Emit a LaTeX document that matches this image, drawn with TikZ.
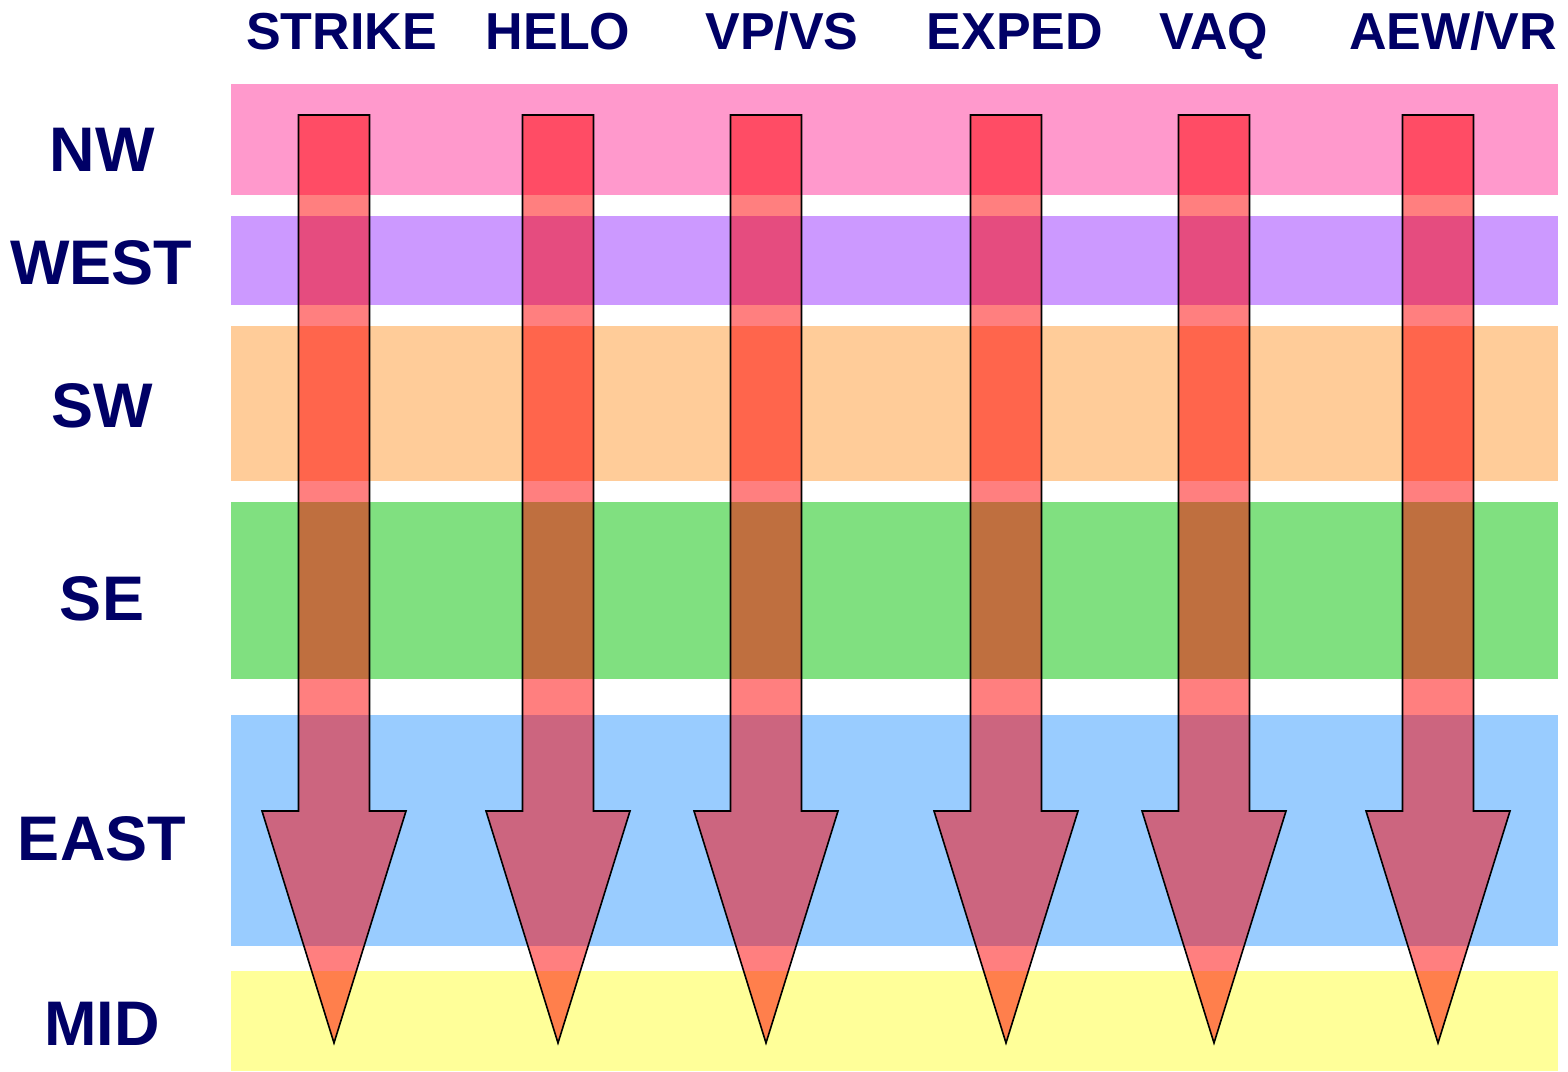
\documentclass[tikz,border=0pt]{standalone}
\usepackage{fontspec}
\setmainfont{Liberation Sans}
\begin{document}
\begin{tikzpicture}[x=1pt,y=-1pt,
  band/.style={draw=none},
  hdr/.style={anchor=base,inner sep=0pt,text=navy,font=\fontsize{52}{60}\selectfont\bfseries},
  rowlab/.style={anchor=base,inner sep=0pt,text=navy,font=\fontsize{63}{70}\selectfont\bfseries},
  bigarrow/.style={draw=black,line width=1.6pt,line join=miter,fill=red,fill opacity=0.5}]
\definecolor{navy}{HTML}{000066}
\definecolor{cNW}{HTML}{FF99CC}
\definecolor{cWEST}{HTML}{CC99FF}
\definecolor{cSW}{HTML}{FFCC99}
\definecolor{cSE}{HTML}{80E080}
\definecolor{cEAST}{HTML}{99CCFF}
\definecolor{cMID}{HTML}{FFFF99}
\useasboundingbox (0,0) rectangle (1568,1071);
\fill[white] (0,0) rectangle (1568,1071);
% bands
\fill[band,cNW]   (231,84)  rectangle (1558,195);
\fill[band,cWEST] (231,216) rectangle (1558,305);
\fill[band,cSW]   (231,326) rectangle (1558,481);
\fill[band,cSE]   (231,502) rectangle (1558,679);
\fill[band,cEAST] (231,715) rectangle (1558,946);
\fill[band,cMID]  (231,971) rectangle (1558,1071);
% arrows
\foreach \cx in {334,558,766,1006,1214,1438}{
  \draw[bigarrow] (\cx-35.5,115) -- (\cx+35.5,115) -- (\cx+35.5,811) -- (\cx+72,811)
     -- (\cx,1043) -- (\cx-72,811) -- (\cx-35.5,811) -- cycle;
}
% column headers
\node[hdr] (hStrike) at (341.5,49) {STRIKE};
\node[hdr] (hHelo)   at (558,49)   {HELO};
\node[hdr] (hVPVS)   at (782,49)   {VP/VS};
\node[hdr] (hExped)  at (1015,49)  {EXPED};
\node[hdr] (hVAQ)    at (1214,49)  {VAQ};
\node[hdr] (hAEW)    at (1453,49)  {AEW/VR};
% row labels
\node[rowlab] (rNW)   at (102,171)  {NW};
\node[rowlab] (rWEST) at (101,284)  {WEST};
\node[rowlab] (rSW)   at (102,427)  {SW};
\node[rowlab] (rSE)   at (102,620)  {SE};
\node[rowlab] (rEAST) at (102,860)  {EAST};
\node[rowlab] (rMID)  at (102,1045) {MID};
\end{tikzpicture}
\end{document}
